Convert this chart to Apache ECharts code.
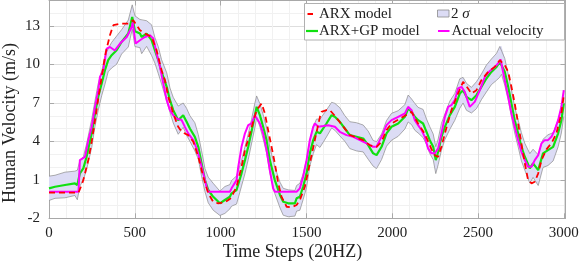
<!DOCTYPE html>
<html><head><meta charset="utf-8">
<script src="https://cdn.jsdelivr.net/npm/echarts@6/dist/echarts.min.js"></script>
<style>html,body{margin:0;padding:0;background:#fff}#c{width:586px;height:264px}</style>
</head><body><div id="c"></div>
<script>
// ---- data (time step, velocity m/s) ----
const xTicks = [0, 500, 1000, 1500, 2000, 2500, 3000];
const yTicks = [-2, 1, 4, 7, 10, 13];
// ARX+GP model: [time, mean, 2σ half-width]
const gpData = [[0,0.34,0.95],[35,0.46,0.9],[93,0.6,1.0],[151,0.73,0.95],[165,0.6,1.15],[180,1.51,1.0],[200,1.9,0.9],[219,2.8,1.0],[249,4.63,1.1],[268,6.18,1.0],[287,7.48,1.05],[307,8.52,0.95],[326,9.56,1.1],[345,10.34,0.9],[365,10.73,1.0],[394,11.12,1.1],[423,11.77,0.95],[462,12.42,1.05],[485,13.71,0.95],[501,12.6,1.2],[530,12.42,1.1],[540,12.15,1.3],[569,12.42,1.0],[598,11.9,1.2],[617,11.12,1.0],[637,10.34,1.05],[656,9.43,0.95],[686,8.26,1.1],[705,7.22,0.95],[724,6.44,1.0],[753,5.66,1.1],[782,6.05,0.95],[802,5.53,1.05],[821,5.01,1.0],[850,4.36,1.1],[870,3.58,0.95],[889,2.29,1.0],[909,0.98,0.9],[928,0.21,1.0],[957,-0.32,1.05],[996,-0.83,0.95],[1025,-0.57,1.05],[1054,-0.32,0.95],[1064,-0.05,1.0],[1093,0.21,1.1],[1122,1.51,1.0],[1142,2.54,1.05],[1161,3.58,1.0],[1180,4.75,0.95],[1200,6.05,0.95],[1210,6.7,0.85],[1229,6.05,0.9],[1248,5.14,0.95],[1268,4.1,1.0],[1287,2.54,1.0],[1316,0.98,1.05],[1346,-0.18,1.0],[1365,-0.71,1.05],[1394,-0.83,1.05],[1433,-0.83,1.0],[1443,-0.44,1.0],[1462,-0.32,1.05],[1481,0.46,1.0],[1501,1.51,1.1],[1520,3.07,1.0],[1540,4.1,1.05],[1559,4.75,1.0],[1579,4.63,1.1],[1617,5.4,1.05],[1647,6.05,1.0],[1666,5.92,1.05],[1695,5.53,1.1],[1724,5.01,1.0],[1753,4.49,1.05],[1792,4.36,1.1],[1831,4.23,1.05],[1860,3.71,1.1],[1889,3.07,1.0],[1909,2.93,1.05],[1938,3.58,1.0],[1967,4.63,1.0],[1996,5.14,1.05],[2035,5.4,1.0],[2074,5.92,0.95],[2093,6.57,1.05],[2113,6.31,1.0],[2132,5.92,1.05],[2151,5.66,1.0],[2180,5.4,1.1],[2200,4.75,1.0],[2219,4.1,1.05],[2239,3.58,1.0],[2254,2.54,1.05],[2268,3.19,1.0],[2287,4.36,1.05],[2307,5.14,1.0],[2336,6.05,1.1],[2365,6.7,1.05],[2394,7.74,1.15],[2413,8.0,1.0],[2433,7.48,1.05],[2462,7.22,1.0],[2491,7.61,1.05],[2520,8.26,1.0],[2549,8.91,1.05],[2578,9.43,1.0],[2608,9.82,1.05],[2627,10.21,1.2],[2637,10.34,1.1],[2656,9.43,1.05],[2676,8.26,1.0],[2695,6.96,1.05],[2714,5.66,1.0],[2734,4.63,1.05],[2753,3.58,1.1],[2773,2.8,1.05],[2802,1.9,1.15],[2821,2.29,1.1],[2851,1.76,1.2],[2879,3.07,1.1],[2908,3.32,1.2],[2938,3.58,1.1],[2967,4.63,1.05],[2986,5.66,1.0],[3000,6.96,1.0]];
// ARX model
const arxData = [[0,0.0],[172,0.0],[186,0.46],[200,0.98],[230,2.6],[249,4.0],[270,5.8],[290,7.6],[310,9.3],[330,10.9],[355,12.29],[375,13.07],[423,13.2],[462,13.2],[491,13.46],[501,13.4],[530,12.68],[559,12.42],[598,12.15],[627,11.12],[656,9.56],[676,8.78],[695,7.48],[724,6.18],[753,5.14],[773,4.75],[811,4.49],[841,3.97],[870,2.8],[899,1.24],[928,-0.05],[957,-0.71],[986,-0.83],[1025,-0.75],[1054,-0.5],[1064,-0.32],[1093,0.46],[1122,2.02],[1142,3.32],[1171,4.63],[1210,6.44],[1239,6.96],[1258,6.18],[1277,4.88],[1297,3.58],[1316,2.29],[1336,0.73],[1355,-0.32],[1385,-1.1],[1414,-1.14],[1443,-0.96],[1462,-0.57],[1491,0.46],[1520,2.29],[1549,4.1],[1579,5.92],[1588,6.31],[1617,6.44],[1637,6.44],[1666,6.0],[1695,5.5],[1724,5.0],[1753,4.5],[1792,4.3],[1831,4.1],[1870,3.7],[1909,3.58],[1938,3.97],[1967,4.88],[1996,5.4],[2035,5.7],[2074,6.0],[2113,6.31],[2151,5.4],[2190,4.6],[2229,3.4],[2250,2.9],[2268,2.8],[2287,3.58],[2307,4.63],[2345,6.44],[2384,7.74],[2413,8.65],[2442,8.13],[2462,7.74],[2491,8.0],[2520,8.78],[2559,9.43],[2598,9.82],[2627,10.34],[2637,10.47],[2656,9.95],[2676,9.43],[2695,8.26],[2714,6.96],[2734,5.4],[2753,3.85],[2773,2.29],[2792,0.98],[2812,0.73],[2831,0.85],[2851,1.51],[2870,2.54],[2900,3.4],[2930,3.9],[2957,4.63],[2986,6.18],[3000,7.6]];
// Actual velocity
const actualData = [[0,0.07],[172,0.07],[180,2.54],[210,2.8],[229,4.1],[249,5.14],[268,6.7],[287,8.0],[297,9.04],[316,9.56],[336,11.25],[355,11.37],[384,11.1],[414,11.64],[453,12.15],[482,12.93],[488,13.3],[505,11.64],[530,11.9],[559,12.15],[588,12.29],[608,12.03],[627,10.86],[647,9.82],[666,8.52],[686,7.22],[705,6.44],[724,6.05],[744,5.79],[773,5.66],[792,5.14],[811,4.63],[841,4.1],[860,3.46],[880,2.54],[899,1.51],[918,0.46],[928,0.07],[1054,0.07],[1064,0.34],[1093,0.98],[1103,2.02],[1122,3.58],[1142,4.63],[1161,5.27],[1180,5.4],[1200,6.05],[1210,6.05],[1229,5.4],[1248,4.63],[1268,3.32],[1287,1.76],[1306,0.34],[1316,0.07],[1443,0.07],[1462,0.34],[1481,1.24],[1501,2.54],[1520,4.1],[1540,5.14],[1549,5.4],[1569,5.14],[1598,5.2],[1627,5.27],[1666,5.14],[1695,4.75],[1734,4.49],[1773,4.36],[1812,4.1],[1851,3.85],[1889,3.58],[1909,3.58],[1928,4.1],[1947,4.63],[1967,5.27],[1996,5.66],[2035,5.92],[2074,6.18],[2093,6.7],[2113,6.44],[2132,5.66],[2151,5.27],[2171,4.88],[2190,4.36],[2209,3.46],[2229,3.07],[2248,3.07],[2268,3.46],[2287,4.63],[2307,5.92],[2326,6.7],[2345,6.83],[2365,7.22],[2384,8.13],[2404,8.26],[2423,7.87],[2442,7.09],[2452,6.7],[2481,7.09],[2511,8.0],[2540,9.04],[2569,9.5],[2598,9.82],[2618,10.1],[2632,10.4],[2656,8.78],[2676,7.48],[2695,6.18],[2714,5.14],[2734,4.1],[2753,3.19],[2773,2.54],[2792,2.02],[2812,2.02],[2831,2.54],[2851,2.93],[2870,3.85],[2889,4.1],[2908,4.1],[2928,4.36],[2947,4.88],[2967,5.66],[2986,6.7],[3000,8.0]];
const legendNames = ['ARX model', 'ARX+GP model', '2 σ', 'Actual velocity'];
const xTitle = 'Time Steps (20HZ)';
const yTitle = 'Human Velocity (m/s)';

// ---- derived ----
const bandLower = gpData.map(d => [d[0], d[1] - d[2]]);
const bandUpper = gpData.map(d => [d[0], d[1] + d[2]]);
const gpMean = gpData.map(d => [d[0], d[1]]);

const FONT = "'Liberation Serif','Times New Roman',serif";
const AX = '#a8a8a8';
const TXT = '#222';
const BAND = '#dcdcf5';
const chart = echarts.init(document.getElementById('c'), null, {renderer: 'canvas'});
const xMin = xTicks[0], xMax = 3010, yMin = yTicks[0], yMax = 15;

function renderBand(params, api) {
  if (params.dataIndex !== 0) return null;
  const pts = [];
  bandUpper.forEach(p => pts.push(api.coord(p)));
  for (let i = bandLower.length - 1; i >= 0; i--) pts.push(api.coord(bandLower[i]));
  return {type: 'polygon', shape: {points: pts}, style: {fill: BAND, stroke: null}, silent: true};
}

const option = {
  animation: false,
  backgroundColor: '#fff',
  grid: {left: 49, right: 20.5, top: 0.5, bottom: 45.7, containLabel: false},
  xAxis: [
    {type: 'value', min: xMin, max: xMax, interval: 100, show: true,
     axisLine: {show: false}, axisTick: {show: false}, axisLabel: {show: false},
     splitLine: {show: true, lineStyle: {color: '#f1f1f1', width: 1}}},
    {type: 'value', min: xMin, max: xMax, interval: 500, position: 'bottom',
     axisLine: {show: true, onZero: false, lineStyle: {color: AX, width: 1}},
     axisTick: {show: true, inside: true, length: 5, lineStyle: {color: AX}},
     axisLabel: {show: true, margin: 7, color: TXT, fontFamily: FONT, fontSize: 15, showMaxLabel: false,
       formatter: v => (xTicks.indexOf(v) >= 0 ? String(v) : '')},
     splitLine: {show: true, lineStyle: {color: '#dedede', width: 1}}},
    {type: 'value', min: xMin, max: xMax, interval: 500, position: 'top',
     axisLine: {show: true, onZero: false, lineStyle: {color: AX, width: 1}},
     axisTick: {show: true, inside: true, length: 5, lineStyle: {color: AX}},
     axisLabel: {show: false}, splitLine: {show: false}}
  ],
  yAxis: [
    {type: 'value', min: yMin, max: yMax, interval: 1,
     axisLine: {show: false}, axisTick: {show: false}, axisLabel: {show: false},
     splitLine: {show: true, lineStyle: {color: '#f1f1f1', width: 1}}},
    {type: 'value', min: yMin, max: yMax, interval: 3, position: 'left',
     axisLine: {show: true, onZero: false, lineStyle: {color: AX, width: 1}},
     axisTick: {show: true, inside: true, length: 5, lineStyle: {color: AX}},
     axisLabel: {show: true, margin: 9, color: TXT, fontFamily: FONT, fontSize: 15, showMaxLabel: false,
       formatter: v => (yTicks.indexOf(v) >= 0 ? String(v) : '')},
     splitLine: {show: true, lineStyle: {color: '#dedede', width: 1}}},
    {type: 'value', min: yMin, max: yMax, interval: 3, position: 'right',
     axisLine: {show: true, onZero: false, lineStyle: {color: AX, width: 1}},
     axisTick: {show: true, inside: true, length: 5, lineStyle: {color: AX}},
     axisLabel: {show: false}, splitLine: {show: false}}
  ],
  series: [
    {name: legendNames[2], type: 'custom', xAxisIndex: 1, yAxisIndex: 1, data: [[xMin, yMin]],
     renderItem: renderBand, silent: true, z: 1, clip: true},
    {name: 'band-low', type: 'line', xAxisIndex: 1, yAxisIndex: 1, data: bandLower,
     symbol: 'none', silent: true, lineStyle: {color: '#8a8a8a', width: 0.7}, z: 2},
    {name: 'band-up', type: 'line', xAxisIndex: 1, yAxisIndex: 1, data: bandUpper,
     symbol: 'none', silent: true, lineStyle: {color: '#8a8a8a', width: 0.7}, z: 2},
    {name: legendNames[1], type: 'line', xAxisIndex: 1, yAxisIndex: 1, data: gpMean,
     symbol: 'none', lineStyle: {color: '#10e010', width: 2.2}, z: 3},
    {name: legendNames[3], type: 'line', xAxisIndex: 1, yAxisIndex: 1, data: actualData,
     symbol: 'none', lineStyle: {color: '#ff00ff', width: 2}, z: 4},
    {name: legendNames[0], type: 'line', xAxisIndex: 1, yAxisIndex: 1, data: arxData,
     symbol: 'none', lineStyle: {color: '#ff0000', width: 1.8, type: [6, 4]}, z: 5}
  ],
  graphic: [
    {type: 'text', x: 10.5, y: 123, rotation: Math.PI / 2, z: 50,
     style: {text: yTitle, fontFamily: FONT, fontSize: 18, fill: TXT, align: 'center', verticalAlign: 'middle'}},
    {type: 'text', x: 292.5, y: 252, z: 50,
     style: {text: xTitle, fontFamily: FONT, fontSize: 18, fill: TXT, align: 'center', verticalAlign: 'middle'}},
    {type: 'rect', z: 100, shape: {x: 304.5, y: 3.5, width: 260, height: 36.5},
     style: {fill: '#fff', stroke: '#b0b0b0', lineWidth: 1}},
    {type: 'line', z: 101, shape: {x1: 307.5, y1: 14, x2: 313, y2: 14}, style: {stroke: '#ff0000', lineWidth: 2}},
    {type: 'text', z: 101, x: 319, y: 14, style: {text: legendNames[0], fontFamily: FONT, fontSize: 15, fill: TXT, verticalAlign: 'middle'}},
    {type: 'line', z: 101, shape: {x1: 306, y1: 31, x2: 318, y2: 31}, style: {stroke: '#10e010', lineWidth: 2.2}},
    {type: 'text', z: 101, x: 319, y: 31, style: {text: legendNames[1], fontFamily: FONT, fontSize: 15, fill: TXT, verticalAlign: 'middle'}},
    {type: 'rect', z: 101, shape: {x: 437.5, y: 10, width: 11.5, height: 7}, style: {fill: BAND, stroke: '#8a8a8a', lineWidth: 0.8}},
    {type: 'text', z: 101, x: 451, y: 14, style: {text: '2 {i|σ}', fontFamily: FONT, fontSize: 15, fill: TXT, verticalAlign: 'middle',
      rich: {i: {fontStyle: 'italic', fontFamily: FONT, fontSize: 15, fill: TXT}}}},
    {type: 'line', z: 101, shape: {x1: 438, y1: 31, x2: 449.5, y2: 31}, style: {stroke: '#ff00ff', lineWidth: 2}},
    {type: 'text', z: 101, x: 451.5, y: 31, style: {text: legendNames[3], fontFamily: FONT, fontSize: 15, fill: TXT, verticalAlign: 'middle'}}
  ]
};
chart.setOption(option);
</script></body></html>
